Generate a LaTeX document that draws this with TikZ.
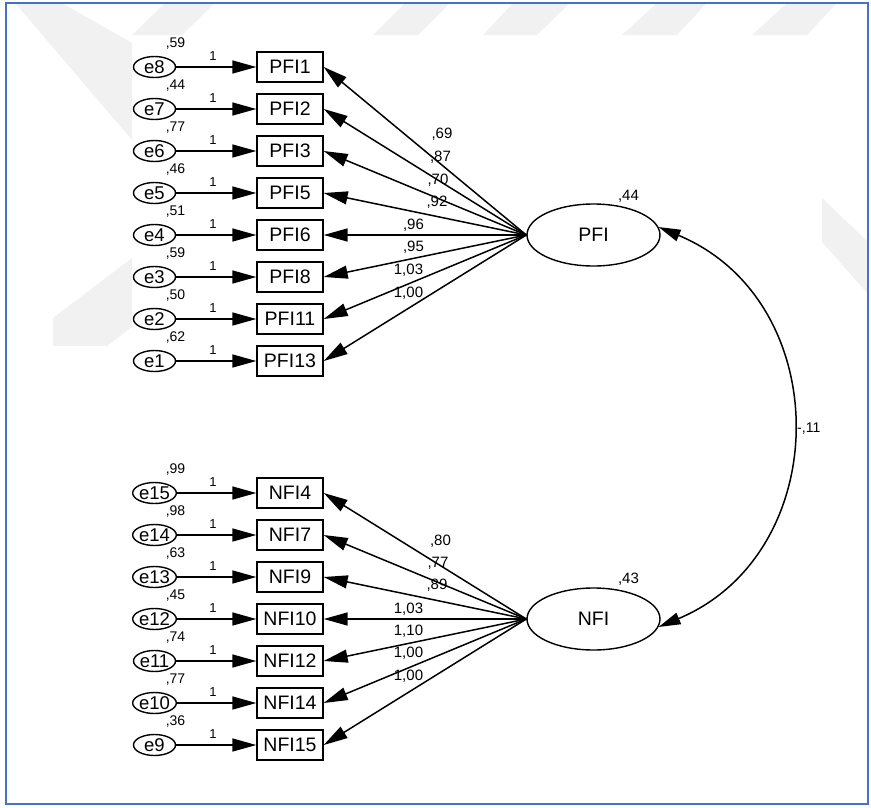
\documentclass[tikz,border=0pt]{standalone}
\usepackage{fontspec}
\setmainfont{Liberation Sans}
\usetikzlibrary{arrows.meta,shapes.geometric}
\definecolor{frameblue}{HTML}{4472C4}
\definecolor{wm}{gray}{0.945}
\begin{document}
\begin{tikzpicture}[x=1pt,y=-1pt,
  errell/.style={ellipse,draw,line width=1.4pt,minimum width=42pt,minimum height=21pt,inner sep=0pt,font=\fontsize{18.5}{18.5}\selectfont},
  obsbox/.style={rectangle,draw,line width=1.4pt,minimum width=66pt,minimum height=30pt,inner sep=0pt,font=\fontsize{19.5}{19.5}\selectfont},
  latent/.style={ellipse,draw,line width=1.4pt,minimum width=133pt,minimum height=62pt,inner sep=0pt,font=\fontsize{19.5}{19.5}\selectfont},
  arr/.style={line width=1.5pt,-{Triangle[length=24pt,width=13pt]}},
  dblarr/.style={line width=1.5pt,{Triangle[length=22pt,width=12pt]}-{Triangle[length=22pt,width=12pt]}},
  one/.style={anchor=base,font=\fontsize{13}{13}\selectfont,inner sep=0pt},
  evar/.style={anchor=base,font=\fontsize{14}{14}\selectfont,inner sep=0pt},
  load/.style={anchor=base,font=\fontsize{15}{15}\selectfont,inner sep=0pt},
  wmark/.style={fill=wm,draw=none},
]
\useasboundingbox (0,0) rectangle (871,807);
% faint watermark
\fill[wmark] (15,3) -- (62,3) -- (132,43) -- (132,140) -- cycle;
\fill[wmark] (53,346) -- (107,346) -- (132,327) -- (132,258) -- (53,318) -- cycle;
\fill[wmark] (165,3) -- (215,3) -- (182,35) -- (132,35) -- cycle;
\fill[wmark] (405,3) -- (450,3) -- (418,35) -- (373,35) -- cycle;
\fill[wmark] (513,3) -- (570,3) -- (537,35) -- (483,35) -- cycle;
\fill[wmark] (657,3) -- (707,3) -- (677,35) -- (622,35) -- cycle;
\fill[wmark] (787,3) -- (837,3) -- (807,35) -- (752,35) -- cycle;
\fill[wmark] (822,198) -- (868,242) -- (868,294) -- (822,242) -- cycle;
% frame
\draw[frameblue,line width=2pt] (6,2.5) rectangle (868,803.5);
% latent variables
\node[latent] (PFI) at (593.5,235) {PFI};
\node[latent] (NFI) at (593.5,619) {NFI};
\node[load] at (628.5,200) {,44};
\node[load] at (628.5,583) {,43};
% PFI block
\foreach \e/\b/\y/\v in {e8/PFI1/67/{,59},e7/PFI2/109/{,44},e6/PFI3/151/{,77},e5/PFI5/193/{,46},e4/PFI6/235/{,51},e3/PFI8/277/{,59},e2/PFI11/319/{,50},e1/PFI13/361/{,62}}{
  \node[errell] (\e) at (154.5,\y) {\e};
  \node[obsbox] (\b) at (290,\y) {\b};
  \draw[arr] (\e) -- (\b);
  \node[one] at (213,\y-7) {1};
  \node[evar] at (175.5,\y-20) {\v};
  \draw[arr] (PFI.west) -- (\b.east);
}
% NFI block
\foreach \e/\b/\y/\v in {e15/NFI4/493/{,99},e14/NFI7/535/{,98},e13/NFI9/577/{,63},e12/NFI10/619/{,45},e11/NFI12/661/{,74},e10/NFI14/703/{,77},e9/NFI15/745/{,36}}{
  \node[errell] (\e) at (154.5,\y) {\e};
  \node[obsbox] (\b) at (290,\y) {\b};
  \draw[arr] (\e) -- (\b);
  \node[one] at (213,\y-7) {1};
  \node[evar] at (175.5,\y-20) {\v};
  \draw[arr] (NFI.west) -- (\b.east);
}
% loading labels
\foreach \x/\y/\t in {442/138/{,69},440.5/161/{,87},438/184/{,70},437/206/{,92},413.5/229/{,96},413.5/251/{,95},408.5/274/{1,03},408.5/297/{1,00},
  440.5/545/{,80},438/567/{,77},437/589/{,89},408.5/613/{1,03},408.5/635/{1,10},408.5/657/{1,00},408.5/680/{1,00}}{
  \node[load] at (\x,\y) {\t};
}
% covariance
\draw[dblarr] (PFI.7) .. controls (836,301) and (835,553) .. (NFI.-7);
\node[evar,anchor=base west] at (797,432) {-,11};
\end{tikzpicture}
\end{document}
